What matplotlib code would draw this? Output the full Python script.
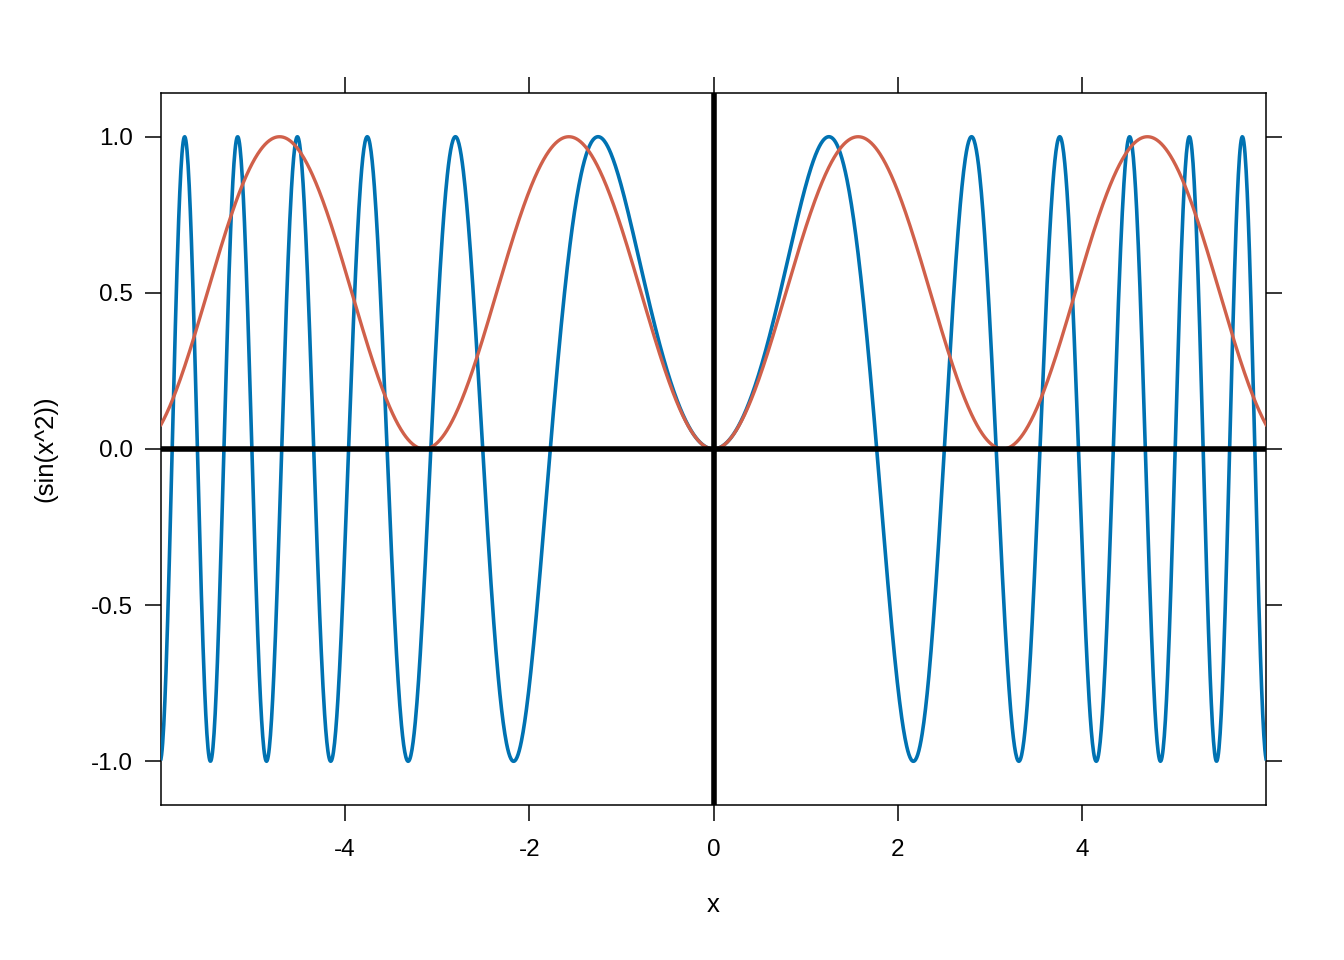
import matplotlib.pyplot as plt
import numpy as np

plt.rcParams['font.family'] = ['Liberation Sans', 'DejaVu Sans']
plt.rcParams['axes.unicode_minus'] = False

# 曲线定义: x 范围与两条函数
x_range = [-6, 6]
n_points = 2000
x_ticks = [-4, -2, 0, 2, 4]
y_ticks = [-1.0, -0.5, 0.0, 0.5, 1.0]
y_ticklabels = ['-1.0', '-0.5', '0.0', '0.5', '1.0']

x = np.linspace(x_range[0], x_range[1], n_points)
y_blue = np.sin(x ** 2)
y_red = np.sin(x) ** 2

fig = plt.figure(figsize=(13.44, 9.6), dpi=100)
ax = fig.add_axes([161/1344, 1 - 805/960, (1266 - 161)/1344, (805 - 93)/960])

ax.plot(x, y_blue, color='#0072B2', lw=2.6, zorder=3)
ax.plot(x, y_red, color='#D0604A', lw=2.4, zorder=3)
ax.axhline(0, color='black', lw=4, zorder=4)
ax.axvline(0, color='black', lw=4, zorder=4)

ax.set_xlim(-6, 6)
ax.set_ylim(-1.14, 1.14)
ax.set_xticks(x_ticks)
ax.set_yticks(y_ticks)
ax.set_yticklabels(y_ticklabels)

# 四边刻度, 只在左/下标注
ax.tick_params(axis='both', direction='out', length=11.5, width=1.1,
               labelsize=17.5, top=True, right=True)
ax.tick_params(axis='x', pad=13)
ax.tick_params(axis='y', pad=9)
for s in ax.spines.values():
    s.set_linewidth(1.1)

ax.set_xlabel('x', fontsize=18.5, labelpad=23)
ax.set_ylabel('(sin(x^2))', fontsize=18.5, labelpad=24)

fig.savefig('out.png', dpi=100)
